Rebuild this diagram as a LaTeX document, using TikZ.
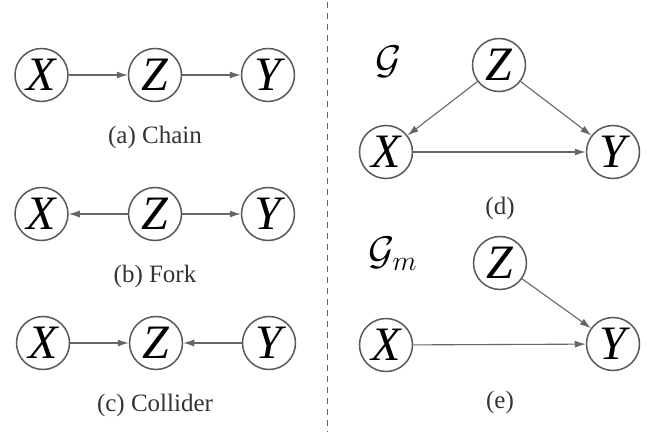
\documentclass[tikz,border=0pt]{standalone}
\usepackage{fix-cm}
\usepackage{fontspec}
\setmainfont{Liberation Serif}
\usetikzlibrary{arrows.meta}
\definecolor{edgegray}{rgb}{0.4,0.4,0.4}
\definecolor{ringgray}{rgb}{0.35,0.35,0.35}
\definecolor{capgray}{rgb}{0.2,0.2,0.2}
\begin{document}
\begin{tikzpicture}[x=1pt,y=-1pt,
    var/.style={circle,draw=ringgray,line width=1.5pt,minimum size=53pt,inner sep=0pt,
        font=\fontsize{48}{50}\selectfont\itshape},
    subcap/.style={text=capgray,font=\fontsize{25}{28}\selectfont},
    graphname/.style={font=\fontsize{40}{44}\selectfont},
    edge/.style={draw=edgegray,line width=1.1pt,-{Latex[length=11pt,width=7pt]}}]
\useasboundingbox (0,0) rectangle (654,436);
\foreach \n/\x in {X/41.5,Z/155,Y/268}
    \node[var] (a\n) at (\x,75) {\n};
\foreach \n/\x in {X/41.5,Z/155,Y/268}
    \node[var] (b\n) at (\x,214) {\n};
\foreach \n/\x in {X/43,Z/156,Y/269}
    \node[var] (c\n) at (\x,343) {\n};
\node[subcap] (acap) at (155,137) {(a) Chain};
\node[subcap] (bcap) at (155,276) {(b) Fork};
\node[subcap] (ccap) at (155,405) {(c) Collider};
\draw[edge] (aX) -- (aZ);
\draw[edge] (aZ) -- (aY);
\draw[edge] (bZ) -- (bX);
\draw[edge] (bZ) -- (bY);
\draw[edge] (cX) -- (cZ);
\draw[edge] (cY) -- (cZ);
\coordinate (septop) at (327,2);
\coordinate (sepbot) at (327,432);
\draw[edgegray,line width=1pt,dash pattern=on 6pt off 5pt] (septop) -- (sepbot);
\node[var] (dZ) at (499,65) {Z};
\node[var] (dX) at (386,152) {X};
\node[var] (dY) at (613,152) {Y};
\node[graphname] (dG) at (389,62) {$\mathcal{G}$};
\node[subcap] (dcap) at (500,208) {(d)};
\draw[edge] (dZ) -- (dX);
\draw[edge] (dZ) -- (dY);
\draw[edge] (dX) -- (dY);
\node[var] (eZ) at (500,263) {Z};
\node[var] (eX) at (386,345) {X};
\node[var] (eY) at (613,344) {Y};
\node[graphname] (eG) at (393,254) {$\mathcal{G}_m$};
\node[subcap] (ecap) at (500,402) {(e)};
\draw[edge] (eZ) -- (eY);
\draw[edge] (eX) -- (eY);
\end{tikzpicture}
\end{document}
